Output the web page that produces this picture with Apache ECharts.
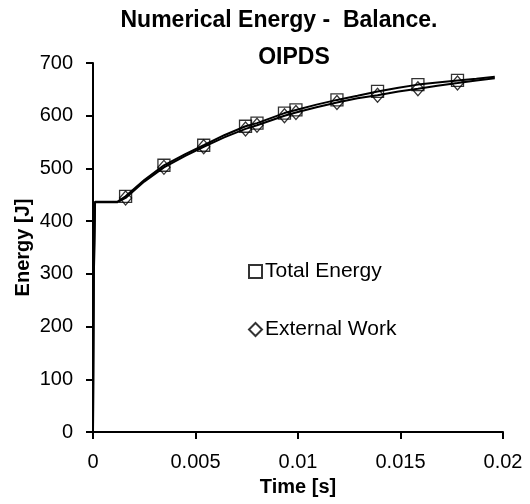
<!DOCTYPE html>
<html>
<head>
<meta charset="utf-8">
<script src="https://cdn.jsdelivr.net/npm/echarts@6/dist/echarts.min.js"></script>
<style>
html,body{margin:0;padding:0;background:#fff;}
#chart{width:530px;height:504px;}
</style>
</head>
<body>
<div id="chart"></div>
<script>
// Time [s] and Energy [J] values
var totalLineTime   = [0, 0.00005, 0.0001, 0.0012, 0.00159, 0.0025, 0.00346, 0.0045, 0.0054, 0.0064, 0.00744, 0.0080, 0.00934, 0.0099, 0.0109, 0.0119, 0.0129, 0.01388, 0.0149, 0.01585, 0.0168, 0.01778, 0.0187, 0.0196];
var totalLineEnergy = [0, 360, 437, 437, 447, 478, 506, 527, 544, 563, 580, 586, 605, 611, 621, 630, 638, 646, 653, 659, 663, 667, 670, 674];

var workLineTime    = [0, 0.00004, 0.00008, 0.0001, 0.0012, 0.00159, 0.0025, 0.00346, 0.0045, 0.0054, 0.0064, 0.00744, 0.0080, 0.00934, 0.0099, 0.0109, 0.0119, 0.0129, 0.01388, 0.0149, 0.01585, 0.0168, 0.01778, 0.0187, 0.0196];
var workLineEnergy  = [0, 300, 360, 436, 436, 444, 475, 502, 524, 541, 559, 575, 582, 600, 606, 616, 625, 633, 639, 646, 651, 657, 662, 667, 671];

var markerTime      = [0.00159, 0.00346, 0.0054, 0.00744, 0.0080, 0.00934, 0.0099, 0.0119, 0.01388, 0.01585, 0.01778];
var totalMarkers    = [447, 506, 544, 580, 586, 605, 611, 630, 646, 659, 667];
var workMarkers     = [444, 502, 541, 575, 582, 600, 606, 625, 639, 651, 662];

var xTicks = [0, 0.005, 0.01, 0.015, 0.02];
var yTicks = [0, 100, 200, 300, 400, 500, 600, 700];

function pairs(xs, ys) { return xs.map(function (x, i) { return [x, ys[i]]; }); }

var FONT = '"Liberation Sans", Arial, sans-serif';
var chart = echarts.init(document.getElementById('chart'));
chart.setOption({
  animation: false,
  backgroundColor: '#fff',
  textStyle: { fontFamily: FONT, color: '#000' },
  title: [
    { text: 'Numerical Energy -  Balance.', left: 279, top: 9, textAlign: 'center', padding: 0,
      textStyle: { fontFamily: FONT, fontSize: 23, fontWeight: 'bold', color: '#000' } },
    { text: 'OIPDS', left: 294, top: 46, textAlign: 'center', padding: 0,
      textStyle: { fontFamily: FONT, fontSize: 23, fontWeight: 'bold', color: '#000' } }
  ],
  grid: { left: 93, right: 27, top: 63, bottom: 72, containLabel: false },
  legend: {
    data: ['Total Energy', 'External Work'],
    orient: 'vertical', left: 248, top: 261, padding: 0,
    itemWidth: 13, itemHeight: 13, itemGap: 37,
    textStyle: { fontFamily: FONT, fontSize: 21, color: '#000', lineHeight: 20, padding: [0, 0, 0, -2] }
  },
  xAxis: {
    type: 'value', min: xTicks[0], max: xTicks[xTicks.length - 1], interval: 0.005,
    name: 'Time [s]', nameLocation: 'middle', nameGap: 45, nameMoveOverlap: false,
    nameTextStyle: { fontFamily: FONT, fontSize: 20, fontWeight: 'bold', color: '#000' },
    axisLine: { lineStyle: { color: '#000', width: 2 } },
    axisTick: { show: true, inside: false, length: 7, lineStyle: { color: '#000', width: 2 } },
    axisLabel: { fontFamily: FONT, fontSize: 20, color: '#000', margin: 20,
      formatter: function (v) { return String(+v.toFixed(3)); } },
    splitLine: { show: false }
  },
  yAxis: {
    type: 'value', min: yTicks[0], max: yTicks[yTicks.length - 1], interval: 100,
    name: 'Energy [J]', nameLocation: 'middle', nameGap: 60, nameRotate: 90, nameMoveOverlap: false,
    nameTextStyle: { fontFamily: FONT, fontSize: 20, fontWeight: 'bold', color: '#000' },
    axisLine: { show: true, lineStyle: { color: '#000', width: 2 } },
    axisTick: { show: true, inside: false, length: 7, lineStyle: { color: '#000', width: 2 } },
    axisLabel: { fontFamily: FONT, fontSize: 20, color: '#000', margin: 20 },
    splitLine: { show: false }
  },
  series: [
    { name: 'External Work line', type: 'line', data: pairs(workLineTime, workLineEnergy),
      showSymbol: false, symbol: 'none', lineStyle: { color: '#000', width: 2 }, z: 2 },
    { name: 'Total Energy line', type: 'line', data: pairs(totalLineTime, totalLineEnergy),
      showSymbol: false, symbol: 'none', lineStyle: { color: '#000', width: 2 }, z: 2 },
    { name: 'Total Energy', type: 'scatter', data: pairs(markerTime, totalMarkers),
      symbol: 'rect', symbolSize: 12,
      itemStyle: { color: 'rgba(255,255,255,0)', borderColor: '#000', borderWidth: 1.3 }, z: 3 },
    { name: 'External Work', type: 'scatter', data: pairs(markerTime, workMarkers),
      symbol: 'diamond', symbolSize: [12, 14],
      itemStyle: { color: 'rgba(255,255,255,0)', borderColor: '#000', borderWidth: 1.3 }, z: 3 }
  ]
});
</script>
</body>
</html>
